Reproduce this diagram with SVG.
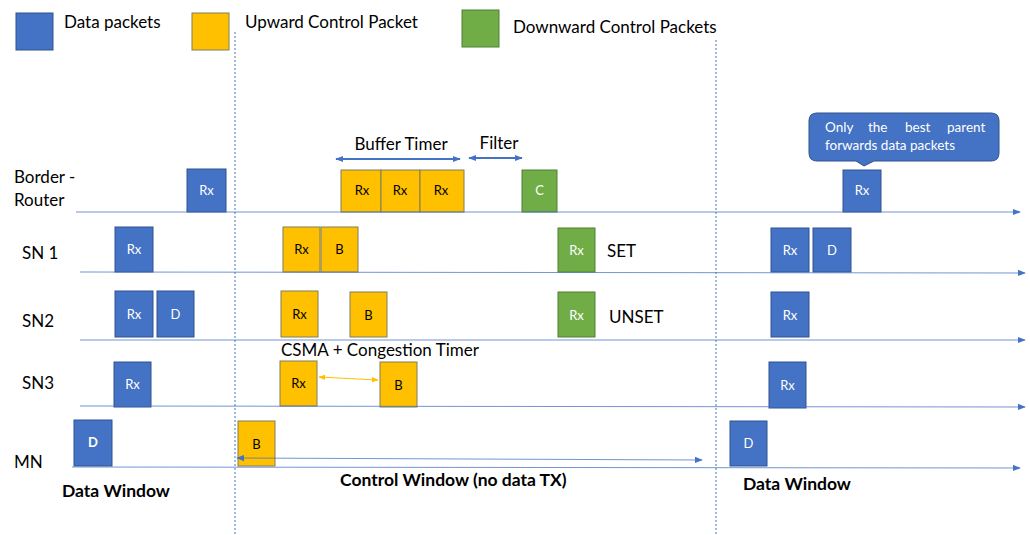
<svg xmlns="http://www.w3.org/2000/svg" width="1030" height="535" viewBox="0 0 1030 535">
  <defs>
    <style>
      text { font-family: Lato, "Liberation Sans", sans-serif; }
      .lbl { font-size: 17px; fill: #000; }
      .bold { font-size: 17.5px; font-weight: bold; fill: #000; }
      .data { fill: #4472C4; stroke: #2F528F; stroke-width: 1; }
      .up { fill: #FFC000; stroke: #7F7F5A; stroke-width: 1; }
      .down { fill: #70AD47; stroke: #507E32; stroke-width: 1; }
      .in { font-size: 13px; text-anchor: middle; }
      .w { fill: #fff; }
      .k { fill: #000; }
      .tl { stroke: #4472C4; stroke-width: 1; fill: none; stroke-opacity: 0.75; }
      .sep { stroke: #4472C4; stroke-width: 1; stroke-dasharray: 2 2; fill: none; }
      .dim { stroke: #4472C4; stroke-width: 2; fill: none; }
      .note { font-size: 13.5px; fill: #fff; }
    </style>
    <marker id="ah" viewBox="0 0 10 10" refX="9" refY="5" markerWidth="8" markerHeight="8" orient="auto-start-reverse" markerUnits="userSpaceOnUse">
      <path d="M0,1 L10,5 L0,9 z" fill="#4472C4"/>
    </marker>
    <marker id="ahy" viewBox="0 0 10 10" refX="9" refY="5" markerWidth="7" markerHeight="7" orient="auto-start-reverse" markerUnits="userSpaceOnUse">
      <path d="M0,1 L10,5 L0,9 z" fill="#FFC000"/>
    </marker>
  </defs>

  <rect width="1030" height="535" fill="#fff"/>

  <!-- legend -->
  <g id="legend">
    <rect class="data" x="16" y="13" width="37" height="37"/>
    <text class="lbl" x="64" y="28">Data packets</text>
    <rect class="up" x="192" y="13" width="37" height="37"/>
    <text class="lbl" x="245" y="28">Upward Control Packet</text>
    <rect class="down" x="462" y="10" width="37" height="37"/>
    <text class="lbl" x="513" y="33">Downward Control Packets</text>
  </g>

  <!-- window separators -->
  <g id="separators">
    <line class="sep" x1="235" y1="32" x2="235" y2="535"/>
    <line class="sep" x1="716" y1="40" x2="716" y2="535"/>
  </g>

  <!-- row labels -->
  <g id="rows">
    <text class="lbl" x="14" y="183">Border -</text>
    <text class="lbl" x="14" y="206">Router</text>
    <text class="lbl" x="22" y="259">SN 1</text>
    <text class="lbl" x="22" y="327">SN2</text>
    <text class="lbl" x="22" y="389">SN3</text>
    <text class="lbl" x="14" y="468">MN</text>
  </g>

  <!-- Border router -->
  <g id="br-rx1"><rect class="data" x="187" y="169" width="39" height="43"/><text class="in w" x="206.5" y="195">Rx</text></g>
  <g id="br-buf1"><rect class="up" x="341" y="170" width="40" height="42"/><text class="in k" x="362" y="195">Rx</text></g>
  <g id="br-buf2"><rect class="up" x="381" y="170" width="39" height="42"/><text class="in k" x="400" y="195">Rx</text></g>
  <g id="br-buf3"><rect class="up" x="420" y="170" width="44" height="42"/><text class="in k" x="441" y="195">Rx</text></g>
  <g id="br-c"><rect class="down" x="522" y="170" width="35" height="42"/><text class="in w" x="539.5" y="195">C</text></g>
  <g id="br-rx2"><rect class="data" x="843" y="170" width="38" height="42"/><text class="in w" x="862" y="195">Rx</text></g>
  <g id="timer-labels">
    <text class="lbl" x="401" y="150" text-anchor="middle">Buffer Timer</text>
    <text class="lbl" x="499" y="149" text-anchor="middle">Filter</text>
  </g>
  <g id="callout">
    <path d="M817,113 H991 Q999,113 999,121 V153 Q999,161 991,161 H874 L864,166 L856,161 H817 Q809,161 809,153 V121 Q809,113 817,113 Z" fill="#4472C4" stroke="#2F528F" stroke-width="1"/>
    <!-- justified first line: words placed individually -->
    <text class="note" y="132"><tspan x="825">Only</tspan><tspan x="868">the</tspan><tspan x="905">best</tspan><tspan x="947">parent</tspan></text>
    <text class="note" x="825" y="150">forwards data packets</text>
  </g>

  <!-- SN 1 -->
  <g id="sn1-rx1"><rect class="data" x="115" y="227" width="38" height="45"/><text class="in w" x="134" y="254">Rx</text></g>
  <g id="sn1-rx2"><rect class="up" x="283" y="227" width="37" height="45"/><text class="in k" x="301.5" y="254">Rx</text></g>
  <g id="sn1-b"><rect class="up" x="321" y="227" width="37" height="45"/><text class="in k" x="339.5" y="254">B</text></g>
  <g id="sn1-set"><rect class="down" x="558" y="228" width="37" height="44"/><text class="in w" x="576.5" y="255">Rx</text><text class="lbl" x="607" y="257">SET</text></g>
  <g id="sn1-rx3"><rect class="data" x="771" y="228" width="38" height="44"/><text class="in w" x="790" y="255">Rx</text></g>
  <g id="sn1-d"><rect class="data" x="813" y="228" width="38" height="44"/><text class="in w" x="832" y="255">D</text></g>

  <!-- SN2 -->
  <g id="sn2-rx1"><rect class="data" x="115" y="291" width="38" height="46"/><text class="in w" x="134" y="319">Rx</text></g>
  <g id="sn2-d"><rect class="data" x="157" y="291" width="37" height="46"/><text class="in w" x="175.5" y="319">D</text></g>
  <g id="sn2-rx2"><rect class="up" x="281" y="291" width="37" height="46"/><text class="in k" x="299.5" y="319">Rx</text></g>
  <g id="sn2-b"><rect class="up" x="350" y="292" width="37" height="45"/><text class="in k" x="368.5" y="320">B</text></g>
  <g id="sn2-unset"><rect class="down" x="558" y="292" width="37" height="45"/><text class="in w" x="576.5" y="320">Rx</text><text class="lbl" x="609" y="323">UNSET</text></g>
  <g id="sn2-rx3"><rect class="data" x="771" y="292" width="38" height="45"/><text class="in w" x="790" y="320">Rx</text></g>

  <!-- SN3 -->
  <text class="lbl" x="281" y="356">CSMA + Congestion Timer</text>
  <g id="sn3-rx1"><rect class="data" x="114" y="362" width="37" height="45"/><text class="in w" x="132.5" y="389">Rx</text></g>
  <g id="sn3-rx2"><rect class="up" x="280" y="361" width="37" height="45"/><text class="in k" x="298.5" y="388">Rx</text></g>
  <g id="sn3-b"><rect class="up" x="380" y="362" width="37" height="45"/><text class="in k" x="398.5" y="390">B</text></g>
  <g id="sn3-rx3"><rect class="data" x="769" y="362" width="37" height="46"/><text class="in w" x="787.5" y="390">Rx</text></g>

  <!-- MN -->
  <g id="mn-d1"><rect class="data" x="74" y="420" width="38" height="46"/><text class="in w" x="93" y="447" font-weight="bold">D</text></g>
  <g id="mn-b"><rect class="up" x="238" y="421" width="37" height="45"/><text class="in k" x="256.5" y="449" font-size="15">B</text></g>
  <g id="mn-d2"><rect class="data" x="730" y="421" width="37" height="45"/><text class="in w" x="748.5" y="448">D</text></g>

  <!-- timelines and timing arrows, drawn over the packets -->
  <g id="connectors">
    <line class="tl" x1="76" y1="212" x2="1020" y2="212" marker-end="url(#ah)"/>
    <line class="tl" x1="80" y1="272" x2="1025" y2="273" marker-end="url(#ah)"/>
    <line class="tl" x1="80" y1="340" x2="1025" y2="340" marker-end="url(#ah)"/>
    <line class="tl" x1="80" y1="406" x2="1025" y2="407" marker-end="url(#ah)"/>
    <line class="tl" x1="72" y1="467" x2="1020" y2="468" marker-end="url(#ah)"/>
    <line class="dim" x1="336" y1="159" x2="460" y2="159" marker-start="url(#ah)" marker-end="url(#ah)"/>
    <line class="dim" x1="469" y1="158" x2="522" y2="158" marker-start="url(#ah)" marker-end="url(#ah)"/>
    <line x1="319" y1="377" x2="378" y2="380" stroke="#FFC000" stroke-width="1" marker-start="url(#ahy)" marker-end="url(#ahy)"/>
    <line class="tl" x1="237" y1="458" x2="702" y2="460" marker-start="url(#ah)" marker-end="url(#ah)"/>
  </g>

  <!-- window captions -->
  <g id="windows">
    <text class="bold" x="62" y="497">Data Window</text>
    <text class="bold" x="340" y="486">Control Window (no data TX)</text>
    <text class="bold" x="743" y="490">Data Window</text>
  </g>
</svg>
